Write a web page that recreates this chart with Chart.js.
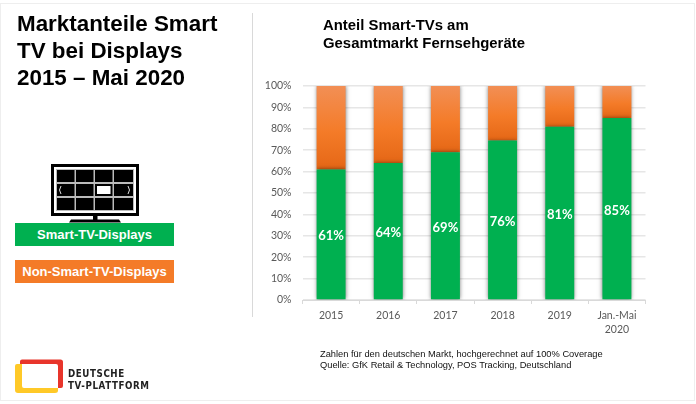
<!DOCTYPE html>
<html>
<head>
<meta charset="utf-8">
<script src="https://cdn.jsdelivr.net/npm/chart.js@4"></script>
<style>
  html, body { margin: 0; padding: 0; background: #fff; overflow: hidden; }
  #wrap { position: relative; width: 696px; height: 404px; font-family: "Liberation Sans", Arial, sans-serif; }
  #frame { position: absolute; left: 0; top: 3px; width: 693px; height: 396px; border: 1px solid #eee; }
  canvas { position: absolute; left: 0; top: 0; }
  .txt { position: absolute; white-space: nowrap; }
  #title { left: 17px; top: 10px; font-size: 22.4px; font-weight: bold; line-height: 27px; color: #000; }
  #sub { left: 323px; top: 16px; font-size: 14.9px; font-weight: bold; line-height: 18px; color: #000; }
  #note { left: 320px; top: 349px; font-size: 9.3px; line-height: 11px; color: #111; }
  #divider { position: absolute; left: 252px; top: 13px; width: 1px; height: 304px; background: #d9d9d9; }
  .box { position: absolute; left: 15px; width: 159px; height: 23px; line-height: 24px; text-align: center; color: #fff; font-size: 13px; font-weight: bold; }
  #logo-text { left: 68px; top: 367px; font-size: 10.5px; font-weight: bold; line-height: 12px; letter-spacing: 0.7px; color: #222; font-family: "DejaVu Sans", sans-serif; transform-origin: left top; transform: scaleX(0.83); }
</style>
</head>
<body>
<div id="wrap">
  <div id="frame"></div>
  <canvas id="myChart" width="696" height="404"></canvas>
  <div id="divider"></div>
  <div class="txt" id="title">Marktanteile Smart<br>TV bei Displays<br>2015 – Mai 2020</div>
  <div class="txt" id="sub">Anteil Smart-TVs am<br>Gesamtmarkt Fernsehgeräte</div>
  <div class="txt" id="note">Zahlen für den deutschen Markt, hochgerechnet auf 100% Coverage<br>Quelle: GfK Retail &amp; Technology, POS Tracking, Deutschland</div>

  <svg style="position:absolute;left:51px;top:164px" width="88" height="59" viewBox="0 0 88 59">
    <rect x="1.5" y="1.5" width="85" height="49" fill="#fff" stroke="#000" stroke-width="3"/>
    <rect x="5" y="5" width="78" height="42" fill="#bbb"/>
    <g fill="#000">
      <rect x="6" y="6" width="17.5" height="12"/><rect x="25" y="6" width="17.5" height="12"/><rect x="44" y="6" width="17.5" height="12"/><rect x="63" y="6" width="19" height="12"/>
      <rect x="6" y="20" width="17.5" height="12"/><rect x="25" y="20" width="17.5" height="12"/><rect x="44" y="20" width="17.5" height="12"/><rect x="63" y="20" width="19" height="12"/>
      <rect x="6" y="34" width="17.5" height="12"/><rect x="25" y="34" width="17.5" height="12"/><rect x="44" y="34" width="17.5" height="12"/><rect x="63" y="34" width="19" height="12"/>
    </g>
    <rect x="46" y="22" width="13.5" height="8" fill="#fff"/>
    <path d="M10 22 L8.5 26 L10 30 M77 22 L78.5 26 L77 30" stroke="#ddd" fill="none" stroke-width="1"/>
    <rect x="42" y="50" width="4.5" height="6" fill="#000"/>
    <path d="M18 58.5 L20 55.5 L68 55.5 L70 58.5 Z" fill="#000"/>
  </svg>

  <div class="box" style="top:223px;background:#00B050">Smart-TV-Displays</div>
  <div class="box" style="top:260px;background:#F47B28">Non-Smart-TV-Displays</div>

  <svg style="position:absolute;left:14px;top:358px" width="52" height="36" viewBox="0 0 52 36">
    <path d="M3 6 H8 V28 Q8 30 10 30 H44 V32.5 Q44 35 41 35 H4 Q1 35 1 32 V8 Q1 6 3 6 Z" fill="#FFC928"/>
    <path d="M8 1.5 H46.5 Q49 1.5 49 4 V28 Q49 30 47 30 H44 V8 Q44 6 42 6 H6 V3.5 Q6 1.5 8 1.5 Z" fill="#E8352B"/>
  </svg>
  <div class="txt" id="logo-text">DEUTSCHE<br>TV-PLATTFORM</div>
</div>

<script>
const categories = ['2015', '2016', '2017', '2018', '2019', ['Jan.-Mai', '2020']];
const smartTv = [61, 64, 69, 74.5, 81, 85];
const smartLabels = ['61%', '64%', '69%', '76%', '81%', '85%'];
const nonSmartTv = [39, 36, 31, 25.5, 19, 15];

const ctx = document.getElementById('myChart');

// weisse Prozentwerte in den gruenen Balken
const barLabels = {
  id: 'barLabels',
  afterDatasetsDraw(chart) {
    const c = chart.ctx;
    const y = chart.scales.y;
    chart.getDatasetMeta(0).data.forEach((bar, i) => {
      c.save();
      c.fillStyle = '#fff';
      c.font = 'bold 13px Lato, sans-serif';
      c.textAlign = 'center';
      c.textBaseline = 'middle';
      c.fillText(smartLabels[i], bar.x, y.getPixelForValue(smartTv[i] / 2) + 1.5);
      c.restore();
    });
  }
};

// Schatten links und rechts der Balken
const barShadow = {
  id: 'barShadow',
  beforeDatasetsDraw(chart) {
    chart.ctx.save();
    chart.ctx.shadowColor = 'rgba(0,0,0,0.5)';
    chart.ctx.shadowBlur = 4;
  },
  afterDatasetsDraw(chart) {
    chart.ctx.restore();
  }
};

function orangeFill(context) {
  const area = context.chart.chartArea;
  if (!area) return '#F47B28';
  const y = context.chart.scales.y;
  const g = context.chart.ctx.createLinearGradient(0, y.getPixelForValue(100), 0, y.getPixelForValue(smartTv[context.dataIndex]));
  g.addColorStop(0, '#F28F55');
  g.addColorStop(0.55, '#F47B28');
  g.addColorStop(1, '#E56716');
  return g;
}

new Chart(ctx, {
  type: 'bar',
  plugins: [barShadow, barLabels],
  data: {
    labels: categories,
    datasets: [
      { label: 'Smart-TV-Displays', data: smartTv, backgroundColor: '#00B050' },
      { label: 'Non-Smart-TV-Displays', data: nonSmartTv, backgroundColor: orangeFill }
    ]
  },
  options: {
    responsive: false,
    animation: false,
    layout: { padding: { left: 251, right: 50.5, top: 86, bottom: 64 } },
    plugins: { legend: { display: false }, tooltip: { enabled: false } },
    datasets: { bar: { categoryPercentage: 1, barPercentage: 0.507 } },
    scales: {
      x: {
        stacked: true,
        afterFit(scale) { scale.height = 40; },
        grid: { display: true, drawOnChartArea: false, color: '#d9d9d9', lineWidth: 1, tickLength: 4 },
        border: { color: '#d9d9d9' },
        ticks: { color: '#595959', font: { family: 'Lato, sans-serif', size: 10.5, lineHeight: 1.33 }, maxRotation: 0, autoSkip: false, padding: 5 }
      },
      y: {
        stacked: true,
        min: 0,
        max: 100,
        afterFit(scale) { scale.width = 51.5; },
        grid: { color: '#e6e6e6', lineWidth: 1.6, drawTicks: false },
        border: { display: false },
        ticks: { stepSize: 10, color: '#595959', padding: 11, font: { family: 'Lato, sans-serif', size: 10.5 }, callback: v => v + '%' }
      }
    }
  }
});
</script>
</body>
</html>
